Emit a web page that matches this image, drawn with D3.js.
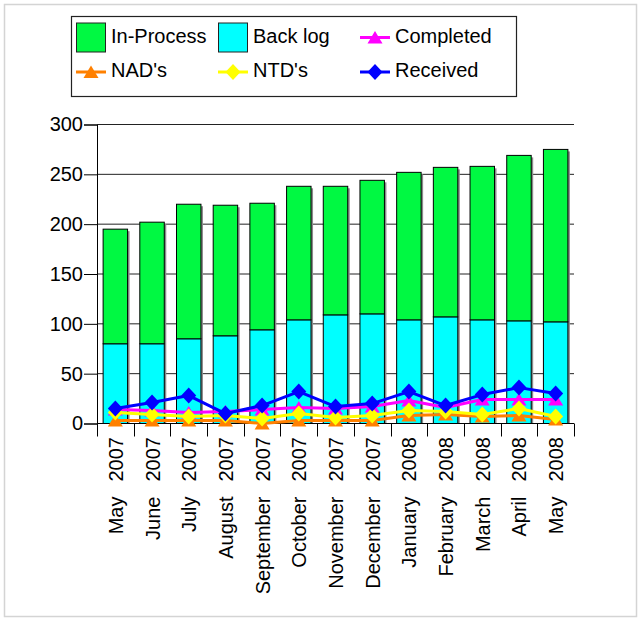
<!DOCTYPE html>
<html><head><meta charset="utf-8">
<script src="https://cdn.jsdelivr.net/npm/d3@7"></script>
<style>
html,body{margin:0;padding:0;background:#fff;}
svg{display:block;font-family:"Liberation Sans",Arial,sans-serif;}
</style></head>
<body>
<svg id="c" width="642" height="618"></svg>
<script>
const months = ["May","June","July","August","September","October","November","December","January","February","March","April","May"];
const years = ["2007","2007","2007","2007","2007","2007","2007","2007","2008","2008","2008","2008","2008"];
const backLog = [80,80,85,88,94,104,109,110,104,107,104,103,102];
const inProcess = [115,122,135,131,127,134,129,134,148,150,154,166,173];
const completed = [14,13,11,12,14,16,15,17,23,16,24,24,24];
const nads = [3,3,3,3,0,3,3,3,8,9,7,8,4];
const ntds = [11,9,7,8,5,10,6,8,13,12,9,15,7];
const received = [15,21,28,10,18,32,17,20,32,18,29,36,30];
const yTicks = [0,50,100,150,200,250,300];

const svg = d3.select("#c");
const idx = d3.range(months.length);
const x = d3.scaleBand().domain(idx).range([97,574]).paddingInner(1/3).paddingOuter(1/6);
const y = d3.scaleLinear().domain([0,300]).range([423.5,124.5]);
const cx = i => x(i) + x.bandwidth()/2;

// outer frame
svg.append("rect").attr("x",4.5).attr("y",4.5).attr("width",632).attr("height",612)
  .attr("fill","none").attr("stroke","#d4d4d4").attr("stroke-width",1.5);

// gridlines
svg.append("g").selectAll("line").data(yTicks.filter(d=>d>0)).join("line")
  .attr("x1",97).attr("x2",574).attr("y1",d=>y(d)).attr("y2",d=>y(d))
  .attr("stroke","#222").attr("stroke-width",1);

// bars
const stacks = d3.stack().keys(["b","p"])(idx.map(i=>({b:backLog[i],p:inProcess[i]})));
const colors = {b:"#00ffff", p:"#00f942"};
const gBars = svg.append("g");
gBars.selectAll("rect.sh").data(idx).join("rect").attr("class","sh")
  .attr("x",i=>x(i)+2).attr("y",i=>y(stacks[1][i][1])+2)
  .attr("width",x.bandwidth()).attr("height",i=>y(0)-y(stacks[1][i][1])-2)
  .attr("fill","#8a8a8a");
stacks.forEach(s=>{
  gBars.selectAll(null).data(s).join("rect")
    .attr("x",(d,i)=>x(i)).attr("y",d=>y(d[1]))
    .attr("width",x.bandwidth()).attr("height",d=>y(d[0])-y(d[1]))
    .attr("fill",colors[s.key]).attr("stroke","#000").attr("stroke-width",1);
});

// y axis
const yAxis = d3.axisLeft(y).tickValues(yTicks).tickSize(13).tickPadding(1);
const ga = svg.append("g").attr("transform","translate(97,0)").call(yAxis);
ga.select(".domain").attr("stroke","#000");
ga.selectAll(".tick line").attr("stroke","#000");
ga.selectAll(".tick text").attr("font-size",20).attr("font-family","Liberation Sans, Arial, sans-serif").attr("fill","#000");

// x axis
svg.append("line").attr("x1",97).attr("x2",574).attr("y1",y(0)).attr("y2",y(0)).attr("stroke","#000");
const bounds = idx.map(i=>x(i)-x.step()*x.paddingInner()/2).concat([574]);
svg.append("g").selectAll("line").data(bounds).join("line")
  .attr("x1",d=>Math.round(d)+0.5).attr("x2",d=>Math.round(d)+0.5)
  .attr("y1",y(0)).attr("y2",y(0)+13).attr("stroke","#000");

const xl = svg.append("g").selectAll("text").data(idx).join("text")
  .attr("transform",i=>`translate(${cx(i)+7.5},437) rotate(-90)`)
  .attr("text-anchor","end").attr("font-size",20).attr("fill","#000");
xl.append("tspan").text(i=>months[i]);
xl.append("tspan").attr("dx",15).text(i=>years[i]);

// lines
const line = d3.line().x((d,i)=>cx(i)).y(d=>y(d));
const triPath = "M0,-6.5L7.5,6L-7.5,6Z";
const diaPath = "M0,-8L7.5,0L0,8L-7.5,0Z";
const series = [
  {vals:completed, color:"#ff00ff", sym:"tri"},
  {vals:nads, color:"#ff8000", sym:"tri"},
  {vals:ntds, color:"#ffff00", sym:"dia"},
  {vals:received, color:"#0000ff", sym:"dia"}
];
function marker(g, s, px, py){
  g.append("path").attr("d", s.sym==="tri" ? triPath : diaPath)
    .attr("transform",`translate(${px},${py})`).attr("fill",s.color);
}
series.forEach(s=>{
  const g = svg.append("g");
  g.append("path").attr("d",line(s.vals)).attr("fill","none").attr("stroke",s.color).attr("stroke-width",3).attr("stroke-linejoin","round");
  s.vals.forEach((v,i)=>marker(g,s,cx(i),y(v)));
});

// legend
const lg = svg.append("g");
lg.append("rect").attr("x",71.5).attr("y",16.5).attr("width",445).attr("height",80)
  .attr("fill","#fff").attr("stroke","#222").attr("stroke-width",1.2);
const legendItems = [
  {label:"In-Process", type:"box", color:"#00f942", x:76, row:0},
  {label:"Back log", type:"box", color:"#00ffff", x:218, row:0},
  {label:"Completed", type:"line", s:series[0], x:360, row:0},
  {label:"NAD's", type:"line", s:series[1], x:76, row:1},
  {label:"NTD's", type:"line", s:series[2], x:218, row:1},
  {label:"Received", type:"line", s:series[3], x:360, row:1}
];
legendItems.forEach(it=>{
  const mid = it.row===0 ? 37.5 : 72;
  const base = it.row===0 ? 43 : 77;
  if(it.type==="box"){
    lg.append("rect").attr("x",it.x+0.5).attr("y",mid-14.5).attr("width",29).attr("height",29)
      .attr("fill",it.color).attr("stroke","#222").attr("stroke-width",1);
  } else {
    lg.append("line").attr("x1",it.x).attr("x2",it.x+30).attr("y1",mid).attr("y2",mid)
      .attr("stroke",it.s.color).attr("stroke-width",3);
    marker(lg,it.s,it.x+15,mid);
  }
  lg.append("text").attr("x",it.x+35).attr("y",base).attr("font-size",20).attr("fill","#000").text(it.label);
});
</script>
</body></html>
